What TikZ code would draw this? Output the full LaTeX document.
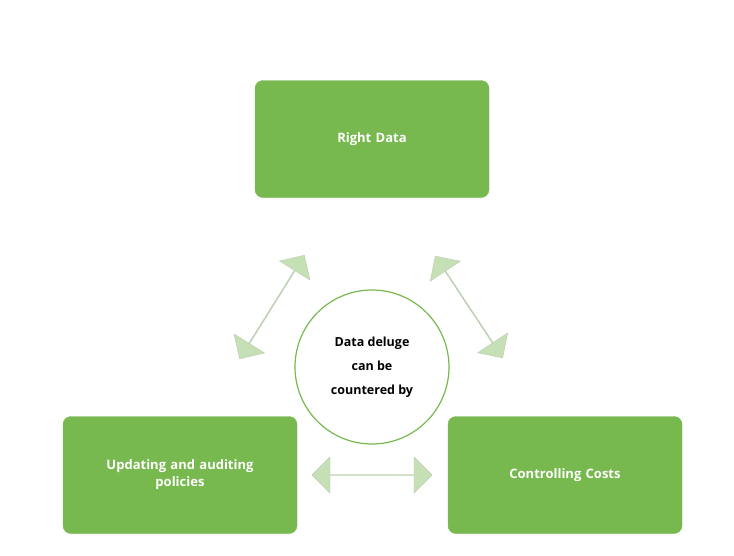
\documentclass[tikz,border=0pt]{standalone}
\usepackage{fontspec}
\setmainfont{Open Sans}
\usetikzlibrary{shapes.arrows}
\definecolor{boxgreen}{HTML}{77B94F}
\definecolor{arrowgreen}{HTML}{C6E0B6}
\begin{document}
\begin{tikzpicture}[x=1pt,y=1pt,
    box/.style={draw=boxgreen,fill=boxgreen,rounded corners=8pt,minimum width=234pt,minimum height=117pt,
        text=white,font=\fontsize{13}{17}\selectfont\bfseries,align=center,text width=200pt},
    link/.style={double arrow,draw=arrowgreen!80!black!70,fill=arrowgreen,minimum width=36pt,
        double arrow head extend=7pt,inner sep=0pt}]
    \useasboundingbox[fill=white] (0,0) rectangle (734,-555);

    % boxes
    \node[box] (right) at (372,-139) {Right Data};
    \node[box] (update) at (180,-475) {Updating and auditing\\policies};
    \node[box] (costs) at (565,-475) {Controlling Costs};

    % centre
    \node[circle,draw=boxgreen,line width=1.2pt,minimum size=154pt,align=center,
        font=\fontsize{12.5}{24}\selectfont\bfseries] (hub) at (372,-367) {Data deluge\\can be\\countered by};

    % arrows
    \node[link,minimum height=122pt,rotate=58] (la) at (272,-307) {};
    \node[link,minimum height=122pt,rotate=-56.5] (ra) at (469,-307) {};
    \node[link,minimum height=120pt] (ba) at (372,-475) {};
\end{tikzpicture}
\end{document}
